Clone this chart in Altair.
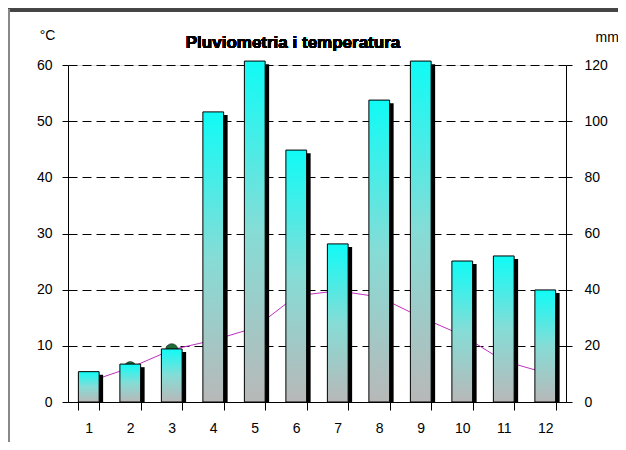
import altair as alt
import pandas as pd

months = [str(m) for m in range(1, 13)]
temperature = [3.6, 6.1, 9.3, 11.0, 13.2, 18.9, 19.8, 18.7, 15.1, 11.9, 7.3, 5.2]
precipitation = [10.8, 13.5, 18.9, 103.3, 121.4, 89.7, 56.3, 107.5, 121.4, 50.2, 52.0, 39.9]
temp_ticks = [0, 10, 20, 30, 40, 50, 60]
prec_ticks = [0, 20, 40, 60, 80, 100, 120]
title_text = "Pluviometria i temperatura"

df = pd.DataFrame({"mes": months, "temp": temperature, "prec": precipitation})

FONT = "Liberation Sans"
LBL = 14

x_enc = alt.X(
    "mes:O",
    sort=months,
    scale=alt.Scale(paddingInner=0.5, paddingOuter=0.25),
    axis=alt.Axis(
        title=None, labelAngle=0, tickBand="extent", tickSize=8,
        labelPadding=11, labelFontSize=LBL, labelFont=FONT, labelColor="black",
        domainColor="black", tickColor="black", grid=False,
    ),
)

y_temp = alt.Y(
    "temp:Q",
    scale=alt.Scale(domain=[0, 60], nice=False),
    axis=alt.Axis(
        orient="left", values=temp_ticks, title="°C", titleAngle=0,
        titleX=-21, titleY=-30, titleAlign="center", titleBaseline="middle",
        titleFont=FONT, titleFontSize=LBL, titleFontWeight="normal", titleColor="black",
        tickSize=6, labelPadding=10, labelFontSize=LBL, labelFont=FONT, labelColor="black",
        domainColor="black", tickColor="black",
        grid=True, gridColor="black", gridDash=[9, 5], gridWidth=1, gridOpacity=1,
    ),
)

prec_scale = alt.Scale(domain=[0, 120], nice=False)
prec_axis = alt.Axis(
    orient="right", values=prec_ticks, title="mm", titleAngle=0,
    titleX=29, titleY=-28, titleAlign="left", titleBaseline="middle",
    titleFont=FONT, titleFontSize=LBL, titleFontWeight="normal", titleColor="black",
    tickSize=6, labelPadding=12, labelFontSize=LBL, labelFont=FONT, labelColor="black",
    domainColor="black", tickColor="black", grid=False,
)

base = alt.Chart(df)

line = base.mark_line(color="#c030c0", strokeWidth=1).encode(x=x_enc, y=y_temp)
points = base.mark_point(
    filled=True, shape="circle", size=150, color="#1f6b3a", opacity=1,
    stroke="black", strokeWidth=0.5,
).encode(x=x_enc, y=y_temp)

gradient = alt.Gradient(
    gradient="linear",
    stops=[
        alt.GradientStop(color="#10fbf6", offset=0),
        alt.GradientStop(color="#86dcd6", offset=0.5),
        alt.GradientStop(color="#b8b8b8", offset=1),
    ],
    x1=0, x2=0, y1=0, y2=1,
)

shadow = (
    base.transform_calculate(shadow_top="datum.prec - 1.1")
    .mark_bar(color="black", xOffset=4)
    .encode(x=x_enc, y=alt.Y("shadow_top:Q", scale=prec_scale, axis=prec_axis))
)
bars = base.mark_bar(fill=gradient, stroke="black", strokeWidth=1).encode(
    x=x_enc, y=alt.Y("prec:Q", scale=prec_scale, axis=prec_axis)
)

frame_top = alt.Chart(df).mark_rule(color="#444444", strokeWidth=2.5).encode(
    x=alt.value(-60), x2=alt.value(560), y=alt.value(-55)
)
frame_left = alt.Chart(df).mark_rule(color="#888888", strokeWidth=1.5).encode(
    x=alt.value(-59), y=alt.value(-56), y2=alt.value(385)
)
title = alt.Chart(df).mark_text(
    text=title_text, font=FONT, fontSize=17, fontWeight="bold", color="black",
    align="center", baseline="middle",
).encode(x=alt.value(225), y=alt.value(-22))

temp_layer = alt.layer(line, points)
prec_layer = alt.layer(shadow, bars)

chart = (
    alt.layer(temp_layer, prec_layer, frame_top, frame_left, title)
    .resolve_scale(y="independent")
    .properties(
        width=498,
        height=337,
        padding={"left": 60, "top": 57, "right": 52, "bottom": 40},
        autosize=alt.AutoSizeParams(type="none"),
    )
    .configure_view(stroke=None)
    .configure(background="white")
)

chart.save("out.html", embed_options={"renderer": "svg", "actions": False})
